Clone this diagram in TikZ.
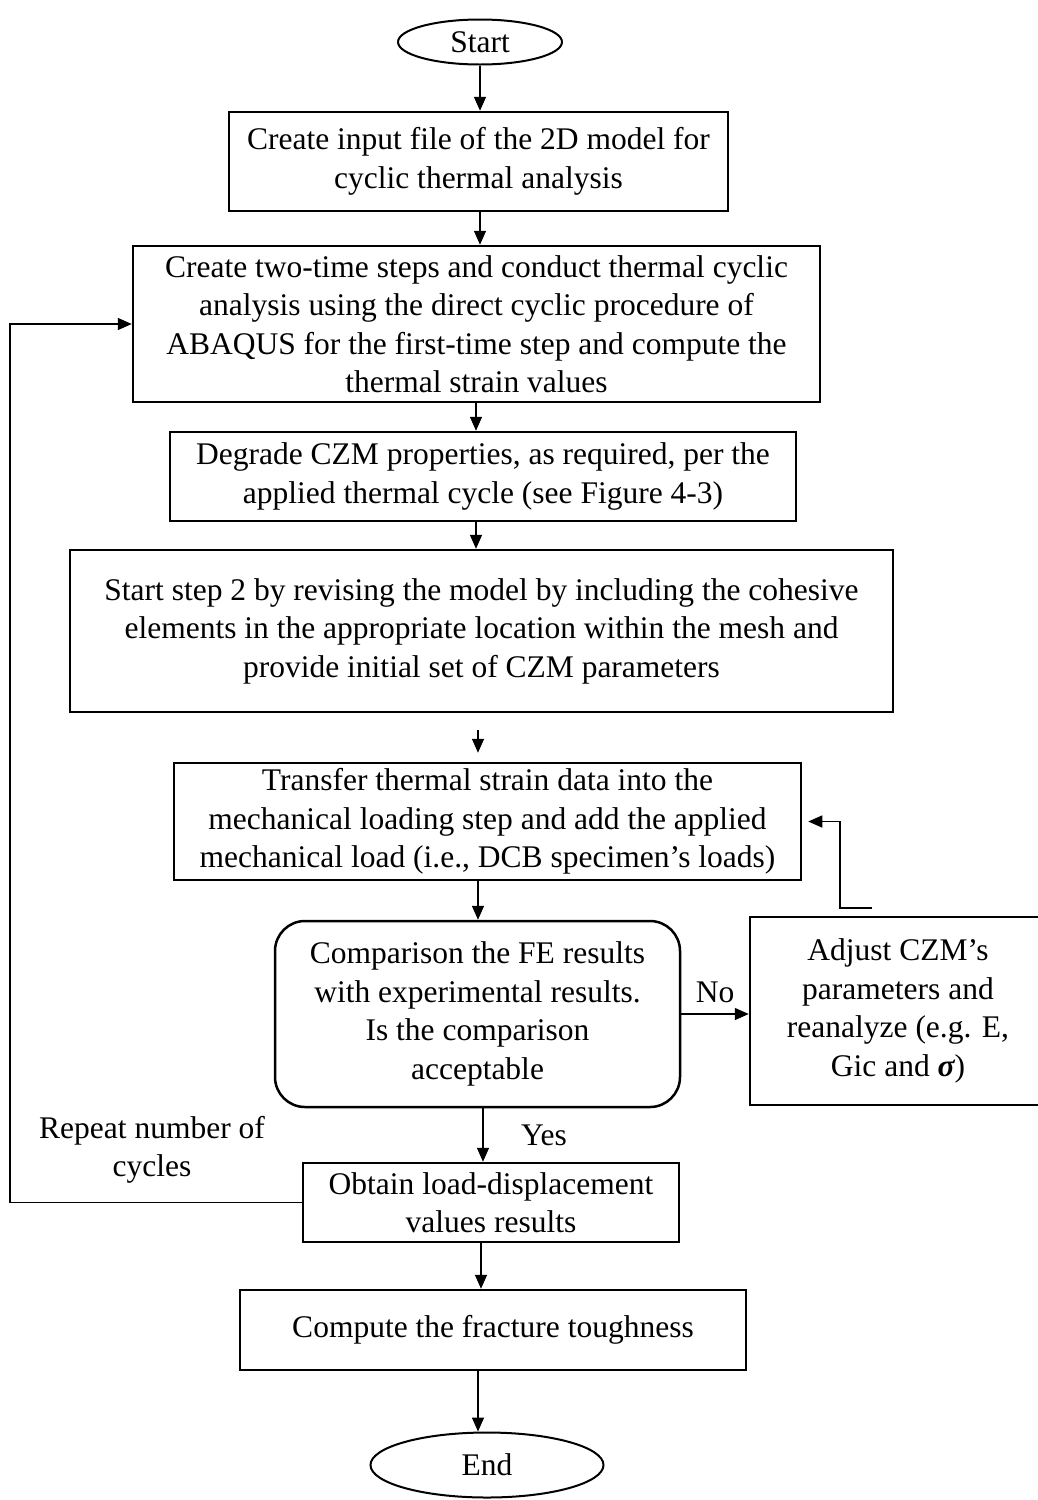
\documentclass[tikz,border=0pt]{standalone}
\usepackage{fontspec}
\setmainfont{Liberation Serif}
\usetikzlibrary{shapes.geometric,arrows.meta,positioning}
\tikzset
{
  procbox/.style     = {rectangle, draw=black, line width=2.5pt, align=center, inner sep=0pt},
  decisionbox/.style = {procbox, rounded corners=30pt},
  terminal/.style    = {ellipse, draw=black, line width=2pt, inner sep=0pt},
  flowline/.style    = {-{Triangle[length=14pt,width=12pt]}, line width=1.5pt}
}

\begin{document}
\begin{tikzpicture}[x=1pt,y=-1pt,font=\fontsize{31.5}{38.5}\selectfont]
            \useasboundingbox (0,0) rectangle (1037,1500);
            % main column
            \node [terminal, minimum width=164pt, minimum height=45pt] (start) at (480,42) {Start};
            \node [procbox, minimum width=499pt, minimum height=99pt] (inputfile) at (478.5,161.5)
              {Create input file of the 2D model for\\cyclic thermal analysis};
            \node [procbox, minimum width=687pt, minimum height=156pt] (cyclic) at (476.5,324)
              {Create two-time steps and conduct thermal cyclic\\analysis using the direct cyclic procedure of\\ABAQUS for the first-time step and compute the\\thermal strain values};
            \node [procbox, minimum width=626pt, minimum height=89pt] (degrade) at (483,476.5)
              {Degrade CZM properties, as required, per the\\applied thermal cycle (see Figure 4-3)};
            \node [procbox, minimum width=823pt, minimum height=162pt] (cohesive) at (481.5,631)
              {Start step 2 by revising the model by including the cohesive\\elements in the appropriate location within the mesh and\\provide initial set of CZM parameters};
            \node [procbox, minimum width=627pt, minimum height=117pt] (transfer) at (487.5,821.5)
              {Transfer thermal strain data into the\\mechanical loading step and add the applied\\mechanical load (i.e., DCB specimen’s loads)};
            \node [decisionbox, minimum width=405pt, minimum height=186pt] (compare) at (477.5,1014)
              {Comparison the FE results\\with experimental results.\\Is the comparison\\acceptable};
            \node [procbox, minimum width=296pt, minimum height=188pt] (adjust) at (898,1011)
              {Adjust CZM’s\\parameters and\\reanalyze (e.g. E,\\Gic and {\bfseries\itshape σ})};
            \node [procbox, minimum width=376pt, minimum height=79pt] (obtain) at (491,1202.5)
              {Obtain load-displacement\\values results};
            \node [procbox, minimum width=506pt, minimum height=80pt] (toughness) at (493,1330)
              {Compute the fracture toughness};
            \node [terminal, minimum width=233pt, minimum height=65pt] (end) at (487,1465) {End};
            \node [align=center] (repeatlbl) at (152,1150) {Repeat number of\\cycles};

            % connectors
            \draw [flowline] (start.south) -- (start.south |- inputfile.north);
            \draw [flowline] ([xshift=1.5pt]inputfile.south) -- ([xshift=1.5pt]inputfile.south |- cyclic.north);
            \draw [flowline] ([xshift=-0.5pt]cyclic.south) -- ([xshift=-0.5pt]cyclic.south |- degrade.north);
            \draw [flowline] ([xshift=-7pt]degrade.south) -- ([xshift=-7pt]degrade.south |- cohesive.north);
            \draw [flowline, shorten <=17pt, shorten >=9pt] ([xshift=-3.5pt]cohesive.south) -- ([xshift=-3.5pt]cohesive.south |- transfer.north);
            \draw [flowline] ([xshift=-9.5pt]transfer.south) -- ([xshift=-9.5pt]transfer.south |- compare.north);
            \draw [flowline] (compare.east) -- (compare.east -| adjust.west) node [midway, above=7pt] {No};
            \draw [flowline] ([shift={(-26pt,8pt)}]adjust.north) -- ++(-32,0) |- ([xshift=6pt]transfer.east);
            \draw [flowline] ([xshift=5.5pt]compare.south) -- ([xshift=5.5pt]compare.south |- obtain.north)
              node [midway, right=34pt] {Yes};
            \draw [flowline] (obtain.west) -- ++(-292,0) |- (cyclic.west);
            \draw [flowline] ([xshift=-10pt]obtain.south) -- ([xshift=-10pt]obtain.south |- toughness.north);
            \draw [flowline] ([xshift=-15pt]toughness.south) -- ([xshift=-15pt]toughness.south |- end.north);
\end{tikzpicture}
\end{document}
